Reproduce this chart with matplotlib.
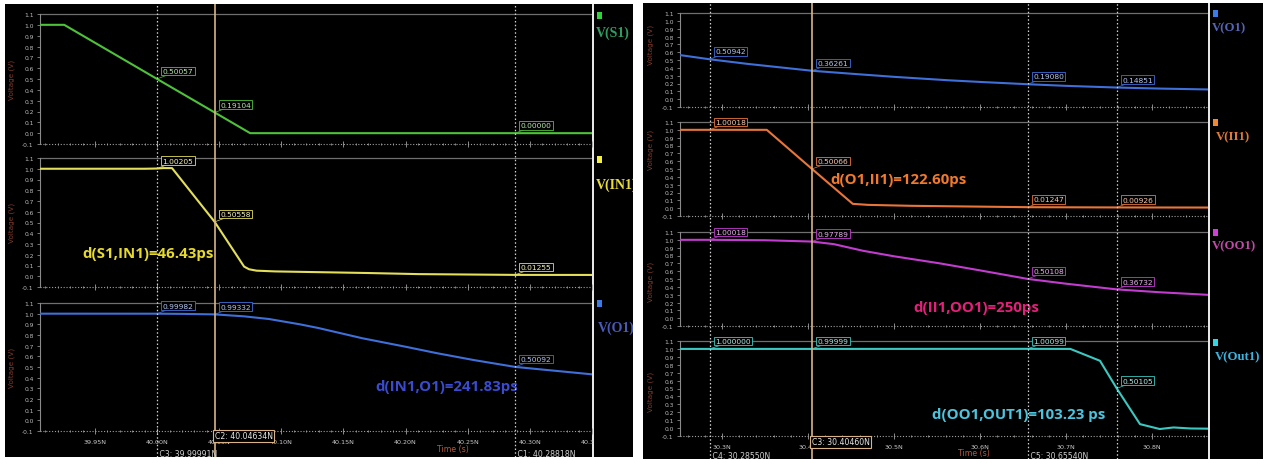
import matplotlib
matplotlib.use("Agg")
import matplotlib.pyplot as plt
import matplotlib.transforms as mtransforms
from matplotlib.patches import Rectangle
from matplotlib.ticker import FixedLocator, MultipleLocator
from matplotlib.colors import to_rgb

W, H = 1263, 460

volt_ticks = [-0.1, 0.0, 0.1, 0.2, 0.3, 0.4, 0.5, 0.6, 0.7, 0.8, 0.9, 1.0, 1.1]

# ---------------- left window: S1 -> IN1 -> O1 (time in ns) ----------------
left_time_ticks = [39.95, 40.00, 40.05, 40.10, 40.15, 40.20, 40.25, 40.30, 40.35]
left_time_labels = ["39.95N", "40.00N", "40.05N", "40.10N", "40.15N",
                    "40.20N", "40.25N", "40.30N", "40.35N"]
left_cursor_times = [39.99991, 40.04634, 40.28818]
left_cursor_names = ["C3", "C2", "C1"]

s1_t = [39.90, 39.9252, 39.99991, 40.04634, 40.0749, 40.28818, 40.36]
s1_v = [1.0, 1.0, 0.50057, 0.19104, 0.0, 0.0, 0.0]
s1_readouts = ["0.50057", "0.19104", "0.00000"]

in1_t = [39.90, 39.99, 39.99991, 40.005, 40.012, 40.04634, 40.070, 40.074,
         40.080, 40.095, 40.13, 40.17, 40.21, 40.28818, 40.36]
in1_v = [1.0, 1.0, 1.00205, 1.006, 1.006, 0.50558, 0.09, 0.065,
         0.052, 0.045, 0.038, 0.030, 0.020, 0.01255, 0.012]
in1_readouts = ["1.00205", "0.50558", "0.01255"]

o1a_t = [39.90, 39.99991, 40.02, 40.04634, 40.07, 40.09, 40.115, 40.13,
         40.165, 40.20, 40.225, 40.255, 40.28818, 40.32, 40.36]
o1a_v = [1.0, 0.99982, 0.998, 0.99332, 0.975, 0.95, 0.90, 0.865,
         0.77, 0.69, 0.63, 0.565, 0.50092, 0.465, 0.42]
o1a_readouts = ["0.99982", "0.99332", "0.50092"]

# ---------------- right window: O1 -> II1 -> OO1 -> Out1 ----------------
right_time_ticks = [30.3, 30.4, 30.5, 30.6, 30.7, 30.8]
right_time_labels = ["30.3N", "30.4N", "30.5N", "30.6N", "30.7N", "30.8N"]
right_cursor_times = [30.28550, 30.40460, 30.65540, 30.75900]
right_cursor_names = ["C4", "C3", "C5", ""]

o1b_t = [30.24, 30.2855, 30.33, 30.4046, 30.45, 30.50, 30.565, 30.60,
         30.6554, 30.70, 30.759, 30.81, 30.87]
o1b_v = [0.58, 0.50942, 0.45, 0.36261, 0.325, 0.285, 0.24, 0.22,
         0.19080, 0.17, 0.14851, 0.135, 0.123]
o1b_readouts = ["0.50942", "0.36261", "0.19080", "0.14851"]

ii1_t = [30.24, 30.2855, 30.352, 30.4046, 30.452, 30.47, 30.52, 30.6554, 30.759, 30.87]
ii1_v = [1.0, 1.00018, 1.0, 0.50066, 0.055, 0.042, 0.030, 0.01247, 0.00926, 0.008]
ii1_readouts = ["1.00018", "0.50066", "0.01247", "0.00926"]

oo1_t = [30.24, 30.2855, 30.35, 30.4046, 30.43, 30.464, 30.50, 30.553, 30.60,
         30.6554, 30.70, 30.759, 30.81, 30.87]
oo1_v = [1.0, 1.00018, 0.995, 0.97789, 0.945, 0.86, 0.79, 0.70, 0.61,
         0.50108, 0.44, 0.36732, 0.33, 0.295]
oo1_readouts = ["1.00018", "0.97789", "0.50108", "0.36732"]

out1_t = [30.24, 30.2855, 30.4046, 30.6554, 30.705, 30.7395, 30.759, 30.786,
          30.809, 30.825, 30.845, 30.87]
out1_v = [1.0, 1.000000, 0.99999, 1.00099, 1.0, 0.85, 0.50105, 0.05,
          -0.012, 0.008, -0.005, -0.008]
out1_readouts = ["1.000000", "0.99999", "1.00099", "0.50105"]

fig = plt.figure(figsize=(W / 100, H / 100), dpi=100, facecolor="white")


def frect(x0, y0, x1, y1):
    return [x0 / W, 1 - y1 / H, (x1 - x0) / W, (y1 - y0) / H]


def tint(c, k=0.6):
    r, g, b = to_rgb(c)
    return (r + (1 - r) * k, g + (1 - g) * k, b + (1 - b) * k)


def block(x0, y0, x1, y1, color):
    fig.add_artist(Rectangle((x0 / W, 1 - y1 / H), (x1 - x0) / W, (y1 - y0) / H,
                             transform=fig.transFigure, facecolor=color,
                             edgecolor="none", zorder=0))


def panel(x0, x1, y11, ym01, xlim, t, v, color, cur_times, readouts,
          majors, labels, minor_step, bottom):
    s = (ym01 - y11) / 1.2
    ax = fig.add_axes(frect(x0, y11 - 0.03 * s, x1, ym01 + 0.03 * s))
    ax.set_facecolor("none")
    ax.set_xlim(xlim)
    ax.set_ylim(-0.13, 1.13)
    ax.axhline(1.1, color="#6f6f6f", lw=0.9, zorder=1)
    ax.axhline(-0.1, color="#a0a0a0", lw=0.8, ls=(0, (1, 1.6)), zorder=1)
    ax.plot(t, v, color=color, lw=1.5, zorder=3, solid_joinstyle="round")
    for sp in ("top", "right", "bottom"):
        ax.spines[sp].set_visible(False)
    ax.spines["left"].set_color("#8a8a8a")
    ax.spines["left"].set_linewidth(0.8)
    ax.spines["left"].set_bounds(-0.1, 1.1)
    ax.yaxis.set_major_locator(FixedLocator(volt_ticks))
    ax.set_yticklabels([f"{y:.1f}" for y in volt_ticks])
    ax.tick_params(axis="y", colors="#8a8a8a", labelcolor="#bdbdbd",
                   labelsize=4.3, length=2.5, width=0.6, pad=2)
    ax.xaxis.set_major_locator(FixedLocator(majors))
    ax.xaxis.set_minor_locator(MultipleLocator(minor_step))
    ax.spines["bottom"].set_position(("data", -0.1))
    ax.tick_params(axis="x", which="both", direction="inout", colors="#a0a0a0",
                   width=0.6, labelsize=4.6, labelcolor="#c8c8c8", pad=4)
    ax.tick_params(axis="x", which="major", length=4)
    ax.tick_params(axis="x", which="minor", length=2)
    if bottom:
        ax.set_xticklabels(labels)
    else:
        ax.set_xticklabels([])
    for tc, txt in zip(cur_times, readouts):
        ax.annotate(txt, xy=(tc, float(txt)), xytext=(4, 3.5),
                    textcoords="offset points", ha="left", va="bottom",
                    fontsize=5.4, color=tint(color, 0.6), zorder=6,
                    bbox=dict(boxstyle="square,pad=0.18", fc="black",
                              ec=color, lw=0.6),
                    arrowprops=dict(arrowstyle="-", color=color, lw=0.5,
                                    shrinkA=0, shrinkB=0))
    return ax


def volt_label(x, yc):
    fig.text(x / W, 1 - yc / H, "Voltage (V)", rotation=90, ha="center",
             va="center", fontsize=5.2, color="#7f3b2b")


def cursors(x0, x1, y0, y1, xlim, times, names, solid_name, box_y, plain_y):
    ov = fig.add_axes(frect(x0, y0, x1, y1))
    ov.set_xlim(xlim)
    ov.set_ylim(0, 1)
    ov.axis("off")
    tr = mtransforms.blended_transform_factory(ov.transData, fig.transFigure)
    for tc, nm in zip(times, names):
        if nm == solid_name:
            ov.axvline(tc, color="#d8b387", lw=1.2, zorder=2)
            ov.text(tc, 1 - box_y / H, f"{nm}: {tc:.5f}N", transform=tr,
                    ha="left", va="center", fontsize=5.6, color="#e6e6e6",
                    zorder=7, bbox=dict(boxstyle="square,pad=0.2", fc="black",
                                        ec="#d8b387", lw=0.8))
        else:
            ov.axvline(tc, color="#d2d2d2", lw=0.9, ls=(0, (1.2, 1.8)), zorder=2)
            if nm:
                ov.text(tc, 1 - plain_y / H, f" {nm}: {tc:.5f}N", transform=tr,
                        ha="left", va="center", fontsize=5.6, color="#d0d0d0",
                        zorder=7)
    return ov


def legend_strip(x0, y0, x1, y1, items, size):
    lg = fig.add_axes(frect(x0, y0, x1, y1))
    lg.set_facecolor("black")
    lg.set_xlim(x0, x1)
    lg.set_ylim(y1, y0)
    lg.set_xticks([])
    lg.set_yticks([])
    for sp in lg.spines.values():
        sp.set_visible(False)
    for name, sq_color, txt_color, sq_y, txt_y, txt_x in items:
        lg.add_patch(Rectangle((x0 + 3, sq_y - 3), 4.5, 6.5, facecolor=sq_color,
                               edgecolor="none"))
        lg.text(txt_x, txt_y, name, ha="left", va="center", fontsize=size,
                family="Liberation Serif", weight="bold", color=txt_color,
                clip_on=True)


def delay_text(ax, t, v, txt, color, size):
    ax.text(t, v, txt, ha="left", va="center", fontsize=size, weight="bold",
            family="Open Sans", color=color, zorder=8)


# ---------------- left window ----------------
block(5, 5, 633, 458, "black")
LX0, LX1 = 40, 592
lxlim = (39.9057, 40.3501)
green, yellow, blue = "#4ec23a", "#e3df5a", "#3f6fd8"

a1 = panel(LX0, LX1, 15, 145, lxlim, s1_t, s1_v, green, left_cursor_times,
           s1_readouts, left_time_ticks, left_time_labels, 0.01, False)
a2 = panel(LX0, LX1, 159, 288, lxlim, in1_t, in1_v, yellow, left_cursor_times,
           in1_readouts, left_time_ticks, left_time_labels, 0.01, False)
a3 = panel(LX0, LX1, 304, 432, lxlim, o1a_t, o1a_v, blue, left_cursor_times,
           o1a_readouts, left_time_ticks, left_time_labels, 0.01, True)
for yc in (80, 223, 368):
    volt_label(12, yc)
fig.text(453 / W, 1 - 450 / H, "Time (s)", ha="center", va="center",
         fontsize=5.6, color="#b55a3c")
delay_text(a2, 39.9396, 0.216, "d(S1,IN1)=46.43ps", "#e6da2e", 10.8)
delay_text(a3, 40.1755, 0.322, "d(IN1,O1)=241.83ps", "#3a4bd0", 10.8)
cursors(LX0, LX1, 5, 458, lxlim, left_cursor_times, left_cursor_names, "C2",
        437, 455)
legend_strip(594, 5, 633, 458, [
    ("V(S1)", "#2fd43a", "#2f9c62", 16, 33, 596),
    ("V(IN1)", "#f2f040", "#e6dd3a", 160, 185, 596),
    ("V(O1)", "#3a7be8", "#4a5ab8", 304, 328, 598),
], 10)
block(592, 5, 594.5, 458, "#e6e6e6")

# ---------------- right window ----------------
block(643, 4, 1263, 460, "black")
RX0, RX1 = 680, 1208
rxlim = (30.2511, 30.8651)
blue2, orange, magenta, cyan = "#3f6fd8", "#e8763a", "#c23ccf", "#3cc8c0"

b1 = panel(RX0, RX1, 14, 108, rxlim, o1b_t, o1b_v, blue2, right_cursor_times,
           o1b_readouts, right_time_ticks, right_time_labels, 0.02, False)
b2 = panel(RX0, RX1, 123, 217, rxlim, ii1_t, ii1_v, orange, right_cursor_times,
           ii1_readouts, right_time_ticks, right_time_labels, 0.02, False)
b3 = panel(RX0, RX1, 233, 327, rxlim, oo1_t, oo1_v, magenta, right_cursor_times,
           oo1_readouts, right_time_ticks, right_time_labels, 0.02, False)
b4 = panel(RX0, RX1, 342, 437, rxlim, out1_t, out1_v, cyan, right_cursor_times,
           out1_readouts, right_time_ticks, right_time_labels, 0.02, True)
for yc in (45, 150, 282, 392):
    volt_label(651, yc)
fig.text(974 / W, 1 - 454 / H, "Time (s)", ha="center", va="center",
         fontsize=5.6, color="#b55a3c")
delay_text(b2, 30.4256, 0.372, "d(O1,II1)=122.60ps", "#f27a2c", 10.8)
delay_text(b3, 30.522, 0.142, "d(II1,OO1)=250ps", "#e3207a", 10.8)
delay_text(b4, 30.544, 0.176, "d(OO1,OUT1)=103.23 ps", "#4cc4de", 10.8)
cursors(RX0, RX1, 4, 460, rxlim, right_cursor_times, right_cursor_names, "C3",
        443, 457)
legend_strip(1210, 4, 1263, 460, [
    ("V(O1)", "#3a7be8", "#5564b4", 14, 28, 1212),
    ("V(II1)", "#f08a30", "#e07a32", 123, 137, 1216),
    ("V(OO1)", "#d040d8", "#c24aa8", 233, 246, 1212),
    ("V(Out1)", "#30d8e0", "#3cb4e0", 343, 357, 1215),
], 9.2)
block(1208, 4, 1210.5, 460, "#e6e6e6")

fig.savefig("out.png", dpi=100, facecolor="white")
